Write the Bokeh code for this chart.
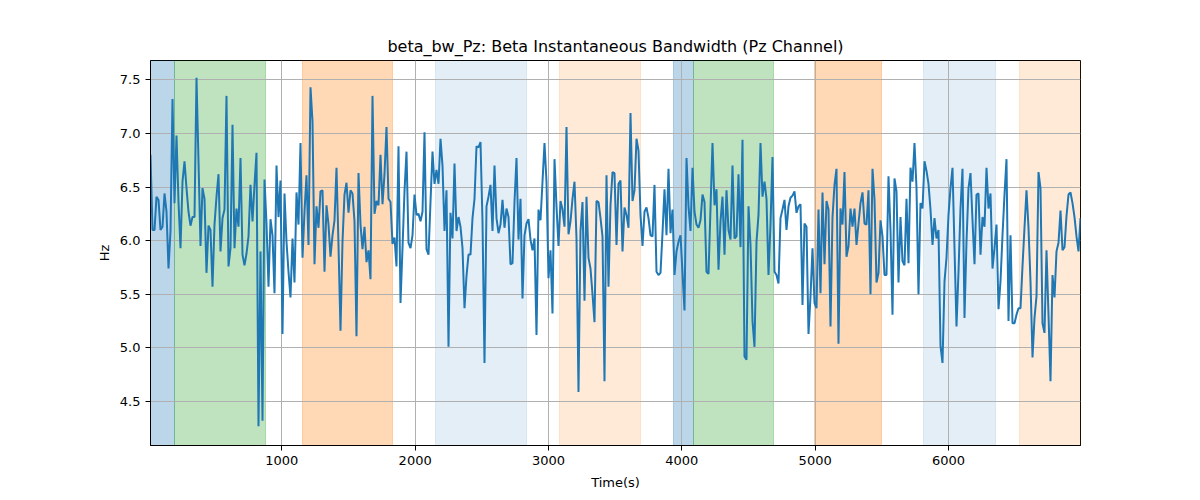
import numpy as np
from bokeh.plotting import figure
from bokeh.models import ColumnDataSource, Range1d, FixedTicker, PrintfTickFormatter
from bokeh.embed import file_html
from bokeh.resources import INLINE

# ---- data ----
sample_step = 15  # seconds between samples
bw_values = [
    6.80, 6.10, 6.10, 6.41, 6.38, 6.10, 6.13, 6.44, 6.27, 5.74,
    6.09, 7.32, 6.35, 6.98, 6.36, 5.93, 6.55, 6.74, 6.49, 6.27,
    6.14, 6.22, 6.22, 7.52, 6.74, 5.95, 6.49, 6.39, 5.70, 6.14,
    6.10, 5.57, 6.15, 6.41, 6.62, 5.90, 6.21, 6.29, 7.35, 5.76,
    5.93, 7.08, 5.93, 6.30, 6.13, 6.77, 5.87, 5.77, 5.88, 6.04,
    6.52, 6.18, 6.52, 6.82, 4.27, 5.90, 4.32, 6.57, 6.16, 5.57,
    6.20, 6.05, 5.51, 6.70, 6.22, 6.56, 5.13, 6.44, 5.99, 5.71,
    5.47, 6.02, 5.61, 6.45, 6.15, 6.91, 5.84, 6.27, 6.61,
    5.96, 7.43, 7.11, 5.78, 6.32, 6.12, 6.46, 6.47, 5.71, 6.33,
    6.15, 5.85, 6.05, 6.19, 6.68, 5.96, 5.16, 5.99, 6.43, 6.54,
    6.26, 6.47, 6.44, 6.18, 5.11, 6.63, 6.15, 5.92, 6.13, 5.80,
    5.91, 5.64, 7.35, 6.25, 6.37, 6.33, 6.80, 6.34, 6.62, 7.06,
    6.39, 6.36, 5.97, 6.03, 5.76, 6.88, 5.42, 5.93, 6.46, 6.83,
    5.98, 5.93, 6.05, 6.43, 6.24, 6.25, 6.18, 6.27, 7.01, 5.92,
    5.87, 6.36, 6.83, 6.53, 6.66, 6.53, 6.95, 6.70, 6.09, 6.47,
    5.01, 6.26, 6.02, 6.72,
    6.09, 6.22, 6.13, 5.93, 5.37, 5.67, 5.87, 5.87, 6.21, 6.39,
    6.88, 6.87, 6.92, 6.18, 4.86, 6.32, 6.41, 6.52, 6.09, 6.70,
    6.21, 6.07, 6.15, 6.38, 6.12, 6.30, 6.22, 5.78, 5.79, 6.36,
    6.77, 6.01, 6.39, 5.46, 6.05, 6.16, 6.20, 6.01, 5.91, 6.02,
    5.12, 6.29, 6.19, 6.55, 6.91, 6.55, 5.65, 5.91, 5.32, 6.76,
    6.32, 5.95, 6.37, 6.29, 6.13, 7.06, 6.06, 6.18, 6.39, 6.55,
    6.02, 4.59, 6.09, 6.36, 5.44, 6.41, 5.84, 5.74, 5.50, 5.24,
    6.37, 6.36, 6.21, 6.04, 4.69,
    6.61, 5.57, 6.33, 6.64, 6.63, 5.96, 6.53, 6.56, 5.90, 6.31,
    6.24, 6.12, 7.19, 6.37, 6.47, 6.95, 6.84, 6.24, 5.95, 6.27,
    6.31, 6.21, 6.05, 6.04, 6.52, 5.71, 5.68, 5.70, 6.07, 6.48,
    6.05, 6.67, 6.07, 6.29, 5.68, 5.90, 5.99, 6.05, 5.70, 5.35,
    6.77, 6.32, 6.09, 6.68, 6.27, 6.15, 6.12, 6.19, 6.43, 6.36,
    5.71, 5.69, 6.30, 6.91, 6.33, 6.48, 5.73, 6.18, 6.41, 5.87,
    6.47, 6.10, 6.01, 6.70, 6.02, 6.04, 6.62, 5.94, 6.94, 4.92,
    4.89, 6.32, 5.96, 5.25, 5.01,
    5.99, 6.24, 6.91, 6.41, 6.55, 6.39, 5.68, 6.15, 6.78, 5.71,
    5.68, 5.60, 6.21, 6.29, 6.38, 6.10, 6.32, 6.40, 6.42, 6.46,
    6.26, 6.32, 6.34, 5.40, 6.16, 6.13, 5.13, 5.48, 5.93, 5.42,
    5.37, 6.29, 5.51, 6.45, 5.78, 6.37, 6.29, 5.20, 6.22, 6.52,
    6.67, 5.04, 6.30, 6.15, 6.64, 5.85, 5.95, 6.30, 6.13, 6.30,
    5.96, 6.16, 6.35, 6.45, 6.16, 6.15, 6.47, 5.50, 6.67, 6.38,
    5.61, 5.70, 6.19, 6.04, 5.68, 5.68, 6.60, 6.10, 5.31, 6.58,
    6.46, 5.61, 6.22, 5.81, 5.77,
    6.39, 5.79, 6.68, 6.55, 6.91, 6.49, 5.50, 6.35, 6.30, 6.74,
    6.65, 6.53, 6.29, 5.96, 6.21, 6.02, 6.10, 5.02,
    4.86, 5.62, 5.84, 6.24, 6.49, 6.68, 5.93, 5.20, 5.71, 6.30,
    6.67, 5.28, 5.99, 6.49, 6.63, 6.19, 5.78, 6.43, 6.44, 5.87,
    6.22, 6.13, 6.68, 6.30, 6.44, 5.74, 5.93, 6.15, 5.36, 5.62,
    6.05, 6.43, 6.76, 5.25, 6.05, 5.23, 5.23, 5.31, 5.37, 5.37,
    5.76, 6.12, 6.47, 6.12, 5.62, 4.91, 5.28, 5.48, 6.64, 6.49,
    5.23, 5.14, 5.91, 5.31, 4.69, 5.68, 5.47, 5.90, 5.98, 6.28,
    5.91, 5.94, 6.23, 6.43, 6.45, 6.35, 6.22, 6.04, 5.90, 6.21,
]
time_s = [sample_step * (i + 1) for i in range(len(bw_values))]

span_start = [15, 197, 1158, 2149, 3080, 3936, 4088, 4997, 5815, 6533]
span_end = [197, 878, 1831, 2837, 3693, 4088, 4691, 5495, 6353, 6990]
span_kind = ["blue", "green", "orange", "blue_light", "orange_light",
             "blue", "green", "orange", "blue_light", "orange_light"]

x_ticks = [1000, 2000, 3000, 4000, 5000, 6000]
y_ticks = [4.5, 5.0, 5.5, 6.0, 6.5, 7.0, 7.5]

# ---- styles ----
kind_style = {
    "blue": ("#1f77b4", 0.3),
    "green": ("#2ca02c", 0.3),
    "orange": ("#ff7f0e", 0.3),
    "blue_light": ("#1f77b4", 0.12),
    "orange_light": ("#ff7f0e", 0.16),
}
FONT = "DejaVu Sans"

p = figure(width=1192, height=492, output_backend="svg", toolbar_location=None,
           x_range=Range1d(15, 6990), y_range=Range1d(4.09, 7.68),
           title="beta_bw_Pz: Beta Instantaneous Bandwidth (Pz Channel)",
           min_border_left=150, min_border_right=112, min_border_top=60,
           min_border_bottom=47)
p.frame_width = 930
p.frame_height = 385

span_src = ColumnDataSource(dict(
    x0=span_start, x1=span_end,
    color=[kind_style[k][0] for k in span_kind],
    alpha=[kind_style[k][1] for k in span_kind],
))
strips = p.vstrip(x0="x0", x1="x1", source=span_src, fill_color="color",
                  fill_alpha="alpha", line_color="color", line_alpha="alpha",
                  line_width=1)
strips.level = "image"

p.line(time_s, bw_values, line_color="#1f77b4", line_width=2)

p.title.text_font = FONT
p.title.text_font_size = "16px"
p.title.text_font_style = "normal"
p.title.align = "center"
p.title.text_color = "black"

p.outline_line_color = "black"
p.outline_line_width = 1
p.outline_line_alpha = 1

for ax in (p.xaxis[0], p.yaxis[0]):
    ax.axis_line_color = "black"
    ax.major_tick_line_color = "black"
    ax.major_tick_out = 5
    ax.major_tick_in = 0
    ax.minor_tick_line_color = None
    ax.major_label_text_font = FONT
    ax.major_label_text_font_size = "13px"
    ax.major_label_text_color = "black"
    ax.axis_label_text_font = FONT
    ax.axis_label_text_font_size = "13px"
    ax.axis_label_text_font_style = "normal"
    ax.axis_label_text_color = "black"

p.xaxis.axis_label_standoff = 7
p.xaxis.ticker = FixedTicker(ticks=x_ticks)
p.yaxis.ticker = FixedTicker(ticks=y_ticks)
p.yaxis.formatter = PrintfTickFormatter(format="%.1f")
p.xaxis.axis_label = "Time(s)"
p.yaxis.axis_label = "Hz"

for g in (p.xgrid[0], p.ygrid[0]):
    g.grid_line_color = "#b0b0b0"
    g.grid_line_width = 1

p.background_fill_color = "white"
p.border_fill_color = "white"

open("out.html", "w").write(file_html(p, INLINE))
